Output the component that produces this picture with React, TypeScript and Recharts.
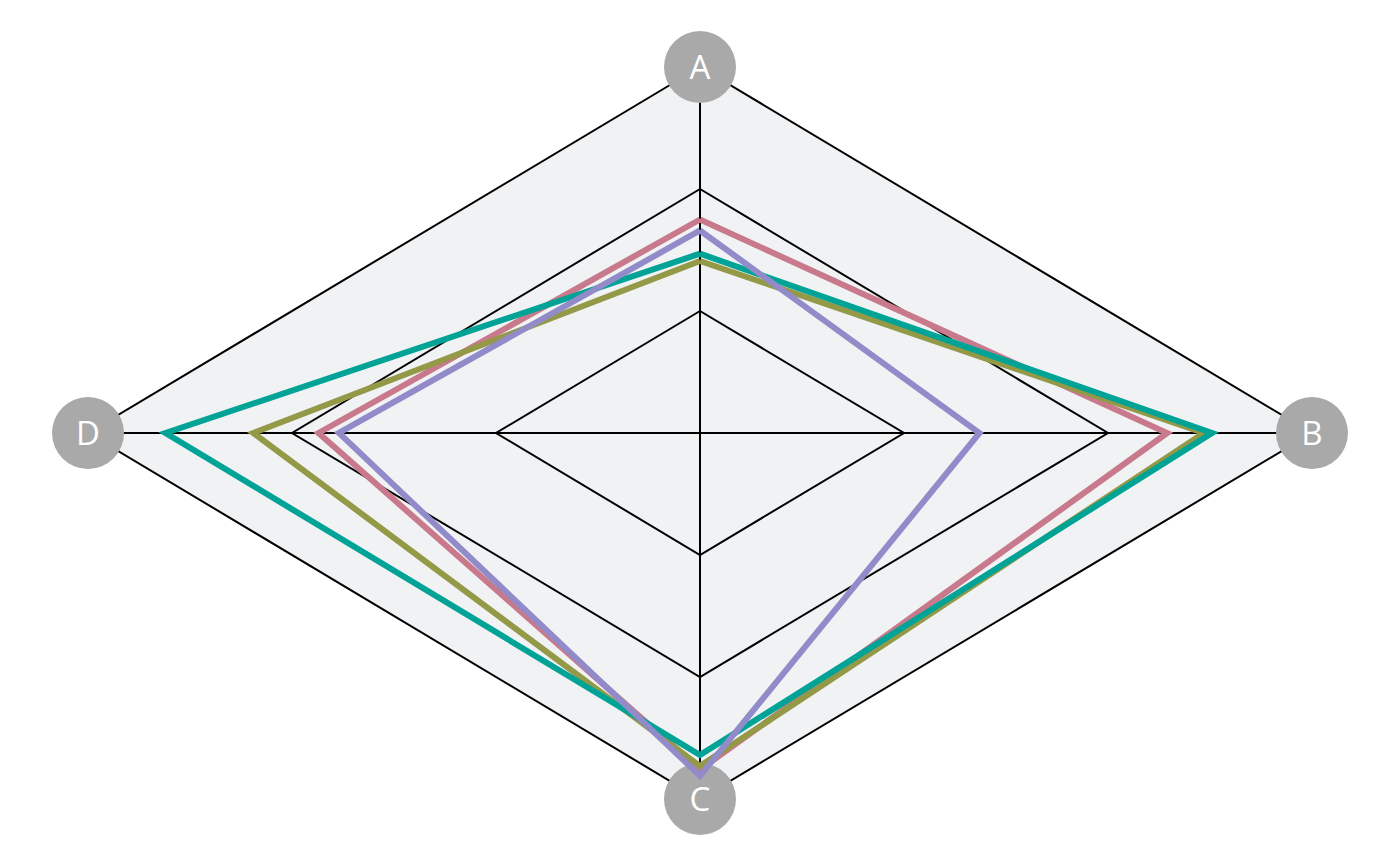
import React from 'react';
import { ComposedChart, Area, Scatter, XAxis, YAxis, ReferenceLine, ReferenceDot } from 'recharts';

// axes of the radar, clockwise from the top
const axisNames = ['A', 'B', 'C', 'D'];
const gridLevels = [1, 2, 3];
const maxLevel = 3;

// values on each axis (A, B, C, D)
const pinkValues = [1.75, 2.29, 2.76, 1.87];
const oliveValues = [1.41, 2.47, 2.73, 2.19];
const tealValues = [1.47, 2.51, 2.64, 2.62];
const purpleValues = [1.66, 1.37, 2.81, 1.77];

const seriesList = [
  { name: 'pink', values: pinkValues, color: '#c8798c' },
  { name: 'olive', values: oliveValues, color: '#939947' },
  { name: 'teal', values: tealValues, color: '#00a396' },
  { name: 'purple', values: purpleValues, color: '#918bc9' },
];

// unit direction of each axis in x/y space
const dirs = [
  { x: 0, y: 1 },
  { x: 1, y: 0 },
  { x: 0, y: -1 },
  { x: -1, y: 0 },
];

const toPolygon = (vals: number[]) => {
  const pts = vals.map((v, i) => ({ x: dirs[i].x * v, y: dirs[i].y * v }));
  return [...pts, pts[0]];
};

// filled background diamond as a band between lower and upper edge
const bgData = [
  { x: -maxLevel, range: [0, 0] },
  { x: 0, range: [-maxLevel, maxLevel] },
  { x: maxLevel, range: [0, 0] },
];

const noDot = () => <g />;

const App: React.FC = () => {
  return (
    <div style={{ position: 'absolute', left: 0, top: 0, width: 1400, height: 866, background: '#fff' }}>
      <ComposedChart
        width={1400}
        height={866}
        data={bgData}
        margin={{ top: 67, right: 88, bottom: 67, left: 88 }}
      >
        <XAxis type="number" dataKey="x" domain={[-maxLevel, maxLevel]} hide />
        <YAxis type="number" domain={[-maxLevel, maxLevel]} hide />
        <Area
          type="linear"
          dataKey="range"
          fill="#f0f2f4"
          fillOpacity={1}
          stroke="none"
          isAnimationActive={false}
        />
        {gridLevels.map((lvl) => (
          <Scatter
            key={'grid' + lvl}
            data={toPolygon(axisNames.map(() => lvl))}
            dataKey="y"
            line={{ stroke: '#000', strokeWidth: 2 }}
            shape={noDot}
            isAnimationActive={false}
          />
        ))}
        <ReferenceLine x={0} stroke="#000" strokeWidth={2} />
        <ReferenceLine y={0} stroke="#000" strokeWidth={2} />
        {axisNames.map((name, i) => (
          <ReferenceDot
            key={name}
            x={dirs[i].x * maxLevel}
            y={dirs[i].y * maxLevel}
            r={36}
            fill="#a9a9a9"
            stroke="none"
            ifOverflow="visible"
            label={{
              value: name,
              position: 'center',
              fill: '#fff',
              fontSize: 33,
              fontFamily: 'Open Sans, DejaVu Sans, sans-serif',
            }}
          />
        ))}
        {seriesList.map((s) => (
          <Scatter
            key={s.name}
            name={s.name}
            data={toPolygon(s.values)}
            dataKey="y"
            line={{ stroke: s.color, strokeWidth: 6 }}
            shape={noDot}
            isAnimationActive={false}
          />
        ))}
      </ComposedChart>
    </div>
  );
};

export default App;
